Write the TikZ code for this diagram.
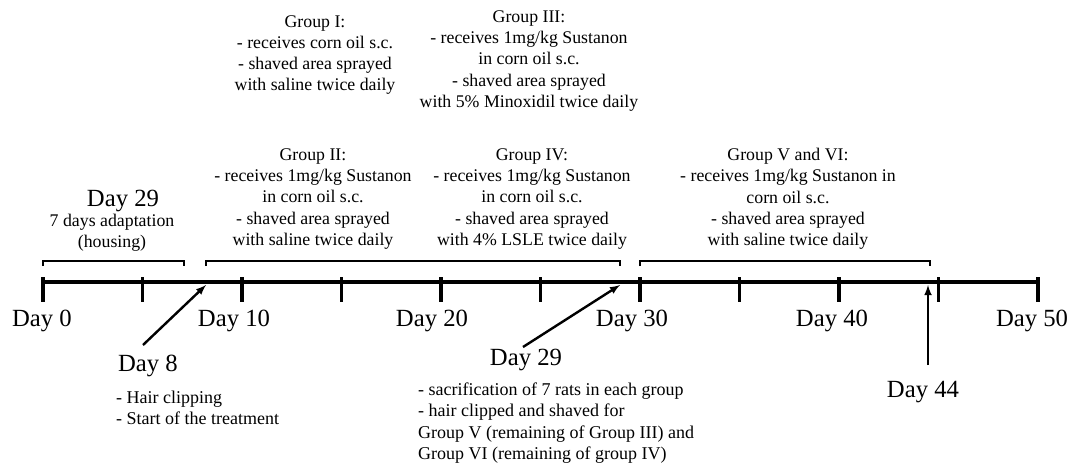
\documentclass[tikz,border=0pt]{standalone}
\usepackage{fontspec}
\setmainfont{Liberation Serif}
\usepackage{tikz}
\usetikzlibrary{arrows, positioning}
\tikzstyle{daylabel}=[inner sep=0pt, font=\fontsize{24.7}{28}\selectfont]
\tikzstyle{groupnote}=[align=center, inner sep=0pt, font=\fontsize{17.8}{21.3}\selectfont]
\tikzstyle{eventnote}=[align=left, anchor=west, inner sep=0pt, font=\fontsize{18}{21.5}\selectfont]
\tikzstyle{timeline}=[line width=3.6pt]
\tikzstyle{daytick}=[line width=3.6pt]
\tikzstyle{period}=[line width=1.7pt]
\tikzstyle{event}=[-latex, line width=2.4pt]

\begin{document}
\begin{tikzpicture}[x=1pt, y=-1pt]
    \useasboundingbox (0,0) rectangle (1081,464);

    % time axis
    \coordinate (d0) at (43,282);
    \coordinate (d50) at (1038,282);
    \draw[timeline] (d0) -- (d50);
    \foreach \i in {0,...,10}
        \draw[daytick] (43+99.5*\i,277) -- (43+99.5*\i,302);

    \node[daylabel] (day0) at (42,321) {Day 0};
    \node[daylabel] (day10) at (234,321) {Day 10};
    \node[daylabel] (day20) at (432,321) {Day 20};
    \node[daylabel] (day30) at (632,321) {Day 30};
    \node[daylabel] (day40) at (832,321) {Day 40};
    \node[daylabel] (day50) at (1032,321) {Day 50};

    % periods
    \draw[period] (43,266) -- (43,261) -- (184,261) -- (184,266);
    \draw[period] (206,266) -- (206,261) -- (620,261) -- (620,266);
    \draw[period] (640,266) -- (640,261) -- (930,261) -- (930,266);

    \node[daylabel] (adapt) at (123,201) {Day 29};
    \node[groupnote] (housing) at (112,233) {7 days adaptation\\(housing)};

    % groups
    \node[groupnote] (g1) at (315,55) {Group I:\\- receives corn oil s.c.\\- shaved area sprayed\\with saline twice daily};
    \node[groupnote] (g3) at (529,61) {Group III:\\- receives 1mg/kg Sustanon\\in corn oil s.c.\\- shaved area sprayed\\with 5\% Minoxidil twice daily};
    \node[groupnote] (g2) at (313,199) {Group II:\\- receives 1mg/kg Sustanon\\in corn oil s.c.\\- shaved area sprayed\\with saline twice daily};
    \node[groupnote] (g4) at (532,199) {Group IV:\\- receives 1mg/kg Sustanon\\in corn oil s.c.\\- shaved area sprayed\\with 4\% LSLE twice daily};
    \node[groupnote] (g56) at (788,199) {Group V and VI:\\- receives 1mg/kg Sustanon in\\corn oil s.c.\\- shaved area sprayed\\with saline twice daily};

    % events
    \node[daylabel] (day8) at (148,366) {Day 8};
    \node[eventnote] (clip) at (116,408) {- Hair clipping\\- Start of the treatment};
    \coordinate (t8) at (143,345);
    \coordinate (d8) at (206,285);
    \draw[event] (t8) -- (d8);

    \node[daylabel] (day29) at (526,360) {Day 29};
    \node[eventnote] (sacr) at (418,423) {- sacrification of 7 rats in each group\\- hair clipped and shaved for\\Group V (remaining of Group III) and\\Group VI (remaining of group IV)};
    \coordinate (t29) at (523,347);
    \coordinate (d29) at (620,285);
    \draw[event] (t29) -- (d29);

    \node[daylabel] (day44) at (923,392) {Day 44};
    \coordinate (t44) at (928,365);
    \coordinate (d44) at (928,285);
    \draw[event] (t44) -- (d44);
\end{tikzpicture}
\end{document}
